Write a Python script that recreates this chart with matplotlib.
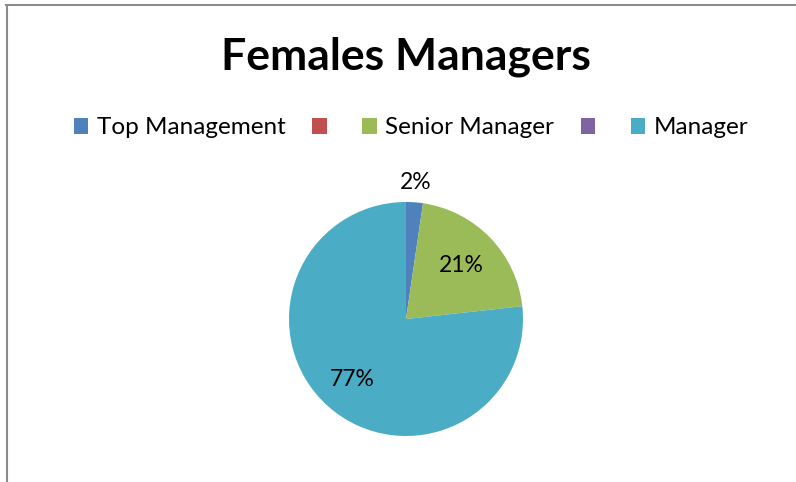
import numpy as np
import matplotlib
matplotlib.use('Agg')
import matplotlib.pyplot as plt
from matplotlib.lines import Line2D
from matplotlib.patches import Patch

# data
categories = ['Top Management', '', 'Senior Manager', '', 'Manager']
counts = [1, 0, 9, 0, 33]
colors = ['#4f81bd', '#c0504d', '#9bbb59', '#8064a2', '#4bacc6']
label_dist = [1.17, 0, 0.66, 0, 0.69]

plt.rcParams['font.family'] = ['Lato', 'DejaVu Sans']

W, H = 796, 482
fig = plt.figure(figsize=(W / 100, H / 100), dpi=100)

# pie axes: center (406, 319) px, radius 117 px
cx, cy, r = 406, 319, 117
ax = fig.add_axes([(cx - r) / W, (H - cy - r) / H, 2 * r / W, 2 * r / H])
wedges, _ = ax.pie(counts, colors=colors, startangle=90, counterclock=False,
                   radius=1, wedgeprops=dict(linewidth=0))
ax.set_xlim(-1, 1)
ax.set_ylim(-1, 1)
ax.set_aspect('equal')
ax.axis('off')

total = sum(counts)
for w, c, d in zip(wedges, counts, label_dist):
    if c == 0:
        continue
    ang = np.deg2rad((w.theta1 + w.theta2) / 2)
    ax.text(d * np.cos(ang), d * np.sin(ang), f'{round(100 * c / total)}%',
            ha='center', va='center', fontsize=16.5, color='black')

fig.text(cx / W, 1 - 57 / H, 'Females Managers', ha='center', va='center',
         fontsize=32, fontweight='bold')

handles = [Patch(facecolor=col, edgecolor='none') for col in colors]
fig.legend(handles, categories, loc='center', bbox_to_anchor=(411 / W, 1 - 128 / H),
           ncol=5, frameon=False, fontsize=17.5, handlelength=0.6, handleheight=0.6,
           handletextpad=0.35, columnspacing=1.1)

# chart border (top and left)
fig.add_artist(Line2D([6 / W, 1], [1 - 5 / H, 1 - 5 / H], color='#8c8c8c', lw=1.5))
fig.add_artist(Line2D([7 / W, 7 / W], [0, 1 - 5 / H], color='#8c8c8c', lw=1.5))

fig.savefig('out.png', dpi=100)
